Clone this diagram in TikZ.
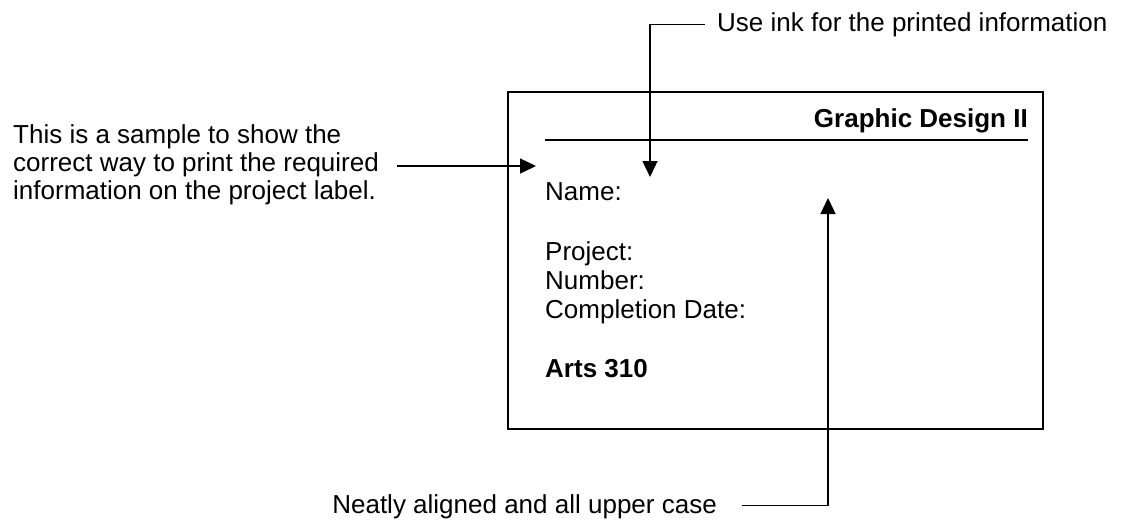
\documentclass[tikz,border=0pt]{standalone}
\usepackage{fontspec}
\setmainfont{Liberation Sans}
\usetikzlibrary{arrows.meta}
\begin{document}
\begin{tikzpicture}[x=1pt,y=-1pt,
  txt/.style={inner sep=0pt,font=\fontsize{26}{28}\selectfont},
  btxt/.style={inner sep=0pt,font=\fontsize{26}{28}\selectfont\bfseries},
  conn/.style={line width=1.3pt,-{Triangle[length=16pt,width=15pt]}},
  frame/.style={line width=1.3pt}]
\useasboundingbox (0,0) rectangle (1129,527);
\draw[frame] (508,92) rectangle (1043,429);
\coordinate (rl) at (545,140);
\coordinate (rr) at (1028,140);
\draw[line width=2.6pt] (rl) -- (rr);
\node[btxt,anchor=base east] (gd) at (1028,127) {Graphic Design II};
\node[txt,anchor=base west] (name) at (545,200) {Name:};
\node[txt,anchor=base west] (proj) at (545,260) {Project:};
\node[txt,anchor=base west] (num) at (545,289) {Number:};
\node[txt,anchor=base west] (comp) at (545,318) {Completion Date:};
\node[btxt,anchor=base west] (arts) at (545,377) {Arts 310};
\node[txt,anchor=north west,align=left] (left) at (13,124) {This is a sample to show the\\correct way to print the required\\information on the project label.};
\coordinate (lt) at (536,166);
\draw[conn] (397,166) -- (lt);
\node[txt,anchor=base west] (top) at (717,32) {Use ink for the printed information};
\coordinate (tt) at (650,177);
\draw[conn] ([xshift=-12pt,yshift=1pt]top.west) -| (tt);
\node[txt,anchor=base east] (bot) at (717,513) {Neatly aligned and all upper case};
\coordinate (bt) at (828,198);
\draw[conn] ([xshift=25pt,yshift=1pt]bot.east) -| (bt);
\end{tikzpicture}
\end{document}
